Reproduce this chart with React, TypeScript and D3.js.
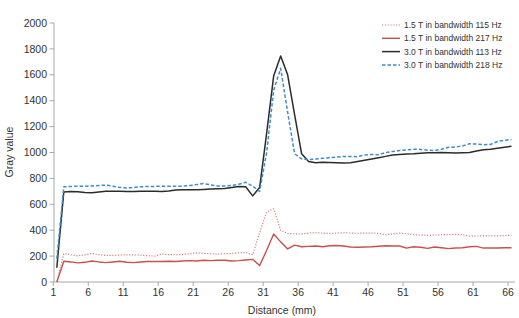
import React from 'react';
import * as d3 from 'd3';

// gray value along the profile, one sample per mm (first sample sits half a mm in)
const bw115 = [
  0, 220, 210, 202, 210, 220, 212, 205, 205, 208, 210, 210, 208, 203, 200, 215, 212, 210, 212, 218,
  225, 222, 218, 215, 218, 220, 225, 228, 210, 380, 540, 565, 400, 375, 372, 370, 378, 380, 378, 375,
  378, 380, 378, 376, 378, 378, 375, 365, 372, 378, 372, 365, 362, 360, 362, 365, 366, 368, 365, 355,
  355, 356, 357, 356, 358, 362,
];
const bw217 = [
  0, 160, 155, 148, 152, 162, 155, 150, 155, 160, 152, 150, 155, 158, 158, 158, 160, 158, 162, 165,
  162, 168, 165, 168, 168, 162, 165, 170, 175, 128, 245, 370, 310, 255, 285, 272, 275, 278, 272, 280,
  282, 278, 270, 268, 270, 272, 276, 280, 278, 278, 262, 272, 268, 260, 270, 265, 258, 262, 265, 272,
  275, 262, 262, 262, 264, 264,
];
const bw113 = [
  110, 695, 698, 697, 692, 690, 695, 700, 700, 700, 698, 698, 700, 700, 700, 698, 702, 710, 712, 712,
  712, 715, 718, 720, 722, 730, 738, 735, 665, 730, 1150, 1590, 1745, 1600, 1290, 990, 930, 920, 925, 922,
  920, 918, 920, 930, 940, 950, 960, 970, 980, 985, 988, 990, 995, 998, 998, 1000, 998, 996, 998, 1000,
  1012, 1022, 1025, 1032, 1040, 1048,
];
const bw218 = [
  180, 735, 738, 740, 740, 742, 745, 748, 740, 730, 725, 730, 735, 738, 738, 740, 740, 740, 740, 745,
  752, 760, 750, 742, 742, 745, 755, 770, 740, 700, 1000, 1480, 1650, 1310, 990, 950, 945, 950, 955, 960,
  965, 970, 970, 968, 980, 985, 982, 1000, 1008, 1015, 1020, 1026, 1024, 1018, 1014, 1025, 1040, 1042, 1050, 1068,
  1065, 1060, 1062, 1085, 1095, 1100,
];

const xTicks = d3.range(1, 67, 5);
const yTicks = d3.range(0, 2001, 200);

const seriesNames = [
  '1.5 T in bandwidth 115 Hz',
  '1.5 T in bandwidth 217 Hz',
  '3.0 T in bandwidth 113 Hz',
  '3.0 T in bandwidth 218 Hz',
];

const font = 'Liberation Sans, Arial, sans-serif';

const App = () => {
  const width = 519;
  const height = 318;

  const x = d3.scaleLinear().domain([1, 67]).range([53.3, 515]);
  const y = d3.scaleLinear().domain([0, 2000]).range([282, 23]);

  const line = d3
    .line<number>()
    .x((_, i) => x(i + 1.5))
    .y((d) => y(d));

  const series = [
    { name: seriesNames[0], values: bw115, color: '#dd7b7b', width: 1.2, dash: '1.2,1.6' },
    { name: seriesNames[1], values: bw217, color: '#c9504e', width: 1.4, dash: undefined },
    { name: seriesNames[2], values: bw113, color: '#2b2b2b', width: 1.5, dash: undefined },
    { name: seriesNames[3], values: bw218, color: '#3d8fc8', width: 1.5, dash: '3.5,2' },
  ];

  return (
    <svg width={width} height={height} style={{ position: 'absolute', left: 0, top: 0 }}>
      {/* y axis */}
      <line x1={54} x2={54} y1={y(2000)} y2={y(0)} stroke="#a8a8a8" />
      {yTicks.map((t) => (
        <g key={t}>
          <line x1={49.5} x2={54} y1={y(t)} y2={y(t)} stroke="#a8a8a8" />
          <text x={47} y={y(t)} dy="0.35em" textAnchor="end" fontSize={10.5} fontFamily={font} fill="#333">
            {t}
          </text>
        </g>
      ))}
      <text
        transform={`translate(13, 152) rotate(-90)`}
        textAnchor="middle"
        fontSize={10.5}
        fontFamily={font}
        fill="#333"
      >
        Gray value
      </text>

      {/* x axis */}
      <line x1={x(1)} x2={x(67)} y1={282} y2={282} stroke="#a8a8a8" />
      {xTicks.map((t) => (
        <g key={t}>
          <line x1={x(t)} x2={x(t)} y1={282} y2={286} stroke="#a8a8a8" />
          <text x={x(t)} y={296} textAnchor="middle" fontSize={10.5} fontFamily={font} fill="#333">
            {t}
          </text>
        </g>
      ))}
      <text x={282} y={314} textAnchor="middle" fontSize={10.5} fontFamily={font} fill="#333">
        Distance (mm)
      </text>

      {/* lines */}
      {series.map((s) => (
        <path
          key={s.name}
          d={line(s.values) || undefined}
          fill="none"
          stroke={s.color}
          strokeWidth={s.width}
          strokeDasharray={s.dash}
          strokeLinejoin="round"
        />
      ))}

      {/* legend */}
      {series.map((s, i) => (
        <g key={s.name} transform={`translate(382, ${25 + i * 13.3})`}>
          <line x1={0} x2={18} y1={0} y2={0} stroke={s.color} strokeWidth={s.width} strokeDasharray={s.dash} />
          <text x={22} y={0} dy="0.35em" fontSize={8.5} fontFamily={font} fill="#333">
            {s.name}
          </text>
        </g>
      ))}
    </svg>
  );
};

export default App;
